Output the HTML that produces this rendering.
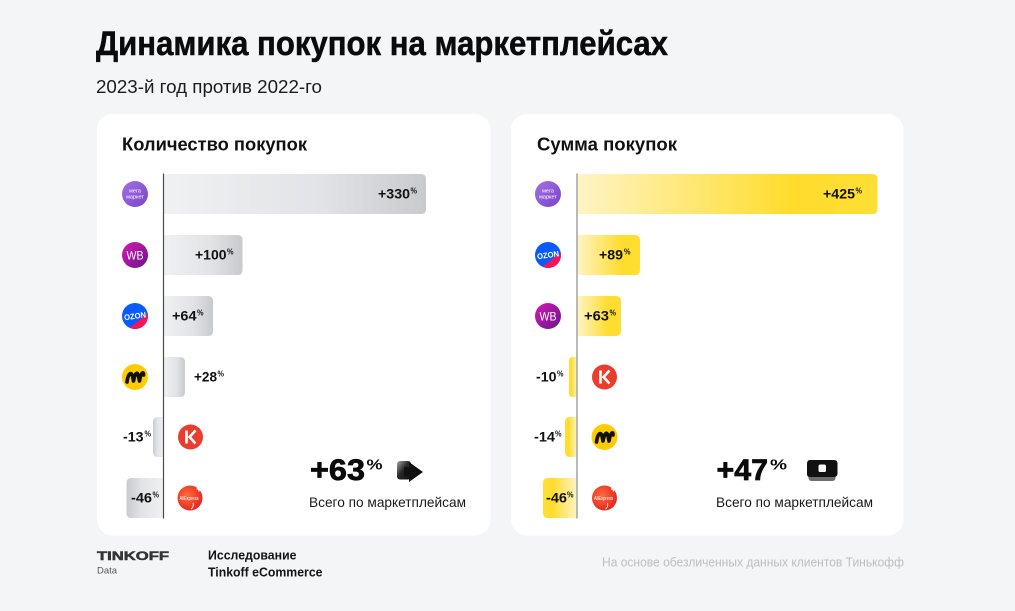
<!DOCTYPE html>
<html><head><meta charset="utf-8"><style>
html,body{margin:0;padding:0;background:#f4f5f7;}
svg{display:block;font-family:"Liberation Sans","Noto Sans CJK SC",sans-serif;}
</style></head><body>
<svg width="1015" height="611" viewBox="0 0 1015 611" xmlns="http://www.w3.org/2000/svg">
<defs>
<linearGradient id="gp" x1="0" y1="0" x2="1" y2="0"><stop offset="0" stop-color="#eff1f3"/><stop offset="0.6" stop-color="#e1e3e6"/><stop offset="1" stop-color="#c8cacd"/></linearGradient>
<linearGradient id="gn" x1="1" y1="0" x2="0" y2="0"><stop offset="0" stop-color="#eff1f3"/><stop offset="0.6" stop-color="#e1e3e6"/><stop offset="1" stop-color="#c8cacd"/></linearGradient>
<linearGradient id="yp" x1="0" y1="0" x2="1" y2="0"><stop offset="0" stop-color="#fff4c6"/><stop offset="0.72" stop-color="#ffdc2c"/><stop offset="1" stop-color="#ffde35"/></linearGradient>
<linearGradient id="yn" x1="1" y1="0" x2="0" y2="0"><stop offset="0" stop-color="#fff4c6"/><stop offset="0.72" stop-color="#ffdc2c"/><stop offset="1" stop-color="#ffde35"/></linearGradient>
<linearGradient id="gMega" x1="0" y1="0" x2="1" y2="1"><stop offset="0" stop-color="#a272e6"/><stop offset="1" stop-color="#7843c6"/></linearGradient>
<linearGradient id="gWB" x1="0" y1="0" x2="1" y2="1"><stop offset="0" stop-color="#d61ab2"/><stop offset="1" stop-color="#6a148e"/></linearGradient>
<radialGradient id="gAli" cx="0.4" cy="0.4" r="0.7"><stop offset="0" stop-color="#ff6b3e"/><stop offset="1" stop-color="#e2201a"/></radialGradient>
<linearGradient id="gArr" x1="0" y1="0" x2="1" y2="1"><stop offset="0" stop-color="#a8a8a8"/><stop offset="0.45" stop-color="#2a2a2a"/><stop offset="1" stop-color="#0e0e0e"/></linearGradient>
</defs>

<!-- Header -->
<text x="96" y="55" font-size="34" font-weight="bold" fill="#0b0b0b" stroke="#0b0b0b" stroke-width="0.5" textLength="572" lengthAdjust="spacingAndGlyphs">Динамика покупок на маркетплейсах</text>
<text x="96" y="93" font-size="18" fill="#1c1c1c" textLength="226" lengthAdjust="spacingAndGlyphs">2023-й год против 2022-го</text>

<!-- Cards -->
<rect x="97" y="114" width="393.5" height="421.5" rx="16" fill="#ffffff"/>
<rect x="511" y="114" width="392.5" height="421.5" rx="16" fill="#ffffff"/>

<text x="122" y="150.5" font-size="18" font-weight="bold" fill="#111" textLength="185" lengthAdjust="spacingAndGlyphs">Количество покупок</text>
<text x="537" y="150.5" font-size="18" font-weight="bold" fill="#111" textLength="140" lengthAdjust="spacingAndGlyphs">Сумма покупок</text>

<!-- Left bars -->
<path d="M163.5 174 H421 Q426 174 426 179 V209 Q426 214 421 214 H163.5 Z" fill="url(#gp)"/>
<path d="M163.5 235 H237.5 Q242.5 235 242.5 240 V270 Q242.5 275 237.5 275 H163.5 Z" fill="url(#gp)"/>
<path d="M163.5 296 H208 Q213 296 213 301 V331 Q213 336 208 336 H163.5 Z" fill="url(#gp)"/>
<path d="M163.5 357 H180 Q185 357 185 362 V392 Q185 397 180 397 H163.5 Z" fill="url(#gp)"/>
<path d="M163.5 417 H158 Q153 417 153 422 V452 Q153 457 158 457 H163.5 Z" fill="url(#gn)"/>
<path d="M163.5 478 H131.5 Q126.5 478 126.5 483 V513 Q126.5 518 131.5 518 H163.5 Z" fill="url(#gn)"/>
<line x1="163.5" y1="173.5" x2="163.5" y2="518.5" stroke="#4d4d4d" stroke-width="1.2"/>

<!-- Right bars -->
<path d="M577 174 H872.5 Q877.5 174 877.5 179 V209 Q877.5 214 872.5 214 H577 Z" fill="url(#yp)"/>
<path d="M577 235 H635 Q640 235 640 240 V270 Q640 275 635 275 H577 Z" fill="url(#yp)"/>
<path d="M577 296 H616 Q621 296 621 301 V331 Q621 336 616 336 H577 Z" fill="url(#yp)"/>
<path d="M577 357 H573 Q569 357 569 361 V393 Q569 397 573 397 H577 Z" fill="url(#yn)"/>
<path d="M577 417 H570 Q565 417 565 422 V452 Q565 457 570 457 H577 Z" fill="url(#yn)"/>
<path d="M577 478 H548 Q543 478 543 483 V513 Q543 518 548 518 H577 Z" fill="url(#yn)"/>
<line x1="577" y1="173.5" x2="577" y2="518.5" stroke="#a9a9a9" stroke-width="1.6"/>

<!-- Left labels -->
<g font-weight="bold" fill="#111">
<text x="378" y="198.5" font-size="14" textLength="32" lengthAdjust="spacingAndGlyphs">+330</text><text x="410.5" y="193.5" font-size="8" textLength="6.5" lengthAdjust="spacingAndGlyphs">%</text>
<text x="195" y="259.5" font-size="14" textLength="31.5" lengthAdjust="spacingAndGlyphs">+100</text><text x="227" y="254.5" font-size="8" textLength="6.5" lengthAdjust="spacingAndGlyphs">%</text>
<text x="172" y="320.5" font-size="14" textLength="24.5" lengthAdjust="spacingAndGlyphs">+64</text><text x="197" y="315.5" font-size="8" textLength="6.5" lengthAdjust="spacingAndGlyphs">%</text>
<text x="194" y="381.5" font-size="14" textLength="23" lengthAdjust="spacingAndGlyphs">+28</text><text x="217.5" y="376.5" font-size="8" textLength="6.5" lengthAdjust="spacingAndGlyphs">%</text>
<text x="123" y="441.5" font-size="14" textLength="20.5" lengthAdjust="spacingAndGlyphs">-13</text><text x="144.5" y="436.5" font-size="8" textLength="6.5" lengthAdjust="spacingAndGlyphs">%</text>
<text x="131" y="502.5" font-size="14" textLength="21" lengthAdjust="spacingAndGlyphs">-46</text><text x="152.5" y="497.5" font-size="8" textLength="6.5" lengthAdjust="spacingAndGlyphs">%</text>

<!-- Right labels -->
<text x="823" y="198.5" font-size="14" textLength="32" lengthAdjust="spacingAndGlyphs">+425</text><text x="855.5" y="193.5" font-size="8" textLength="6.5" lengthAdjust="spacingAndGlyphs">%</text>
<text x="599" y="259.5" font-size="14" textLength="24" lengthAdjust="spacingAndGlyphs">+89</text><text x="624" y="254.5" font-size="8" textLength="6.5" lengthAdjust="spacingAndGlyphs">%</text>
<text x="584" y="320.5" font-size="14" textLength="25" lengthAdjust="spacingAndGlyphs">+63</text><text x="609.5" y="315.5" font-size="8" textLength="6.5" lengthAdjust="spacingAndGlyphs">%</text>
<text x="536" y="381.5" font-size="14" textLength="20.5" lengthAdjust="spacingAndGlyphs">-10</text><text x="557" y="376.5" font-size="8" textLength="6.5" lengthAdjust="spacingAndGlyphs">%</text>
<text x="534" y="441.5" font-size="14" textLength="21" lengthAdjust="spacingAndGlyphs">-14</text><text x="555" y="436.5" font-size="8" textLength="6.5" lengthAdjust="spacingAndGlyphs">%</text>
<text x="546" y="502.5" font-size="14" textLength="21" lengthAdjust="spacingAndGlyphs">-46</text><text x="567" y="497.5" font-size="8" textLength="6.5" lengthAdjust="spacingAndGlyphs">%</text>
</g>

<!-- Icons: Mega (left) -->
<circle cx="135" cy="194" r="13" fill="url(#gMega)"/>
<text x="135" y="192.5" font-size="5.5" fill="#fff" text-anchor="middle">мега</text>
<text x="135" y="198.5" font-size="5.5" fill="#fff" text-anchor="middle">маркет</text>
<!-- WB left -->
<circle cx="135" cy="255" r="13" fill="url(#gWB)"/>
<text x="135" y="259.3" font-size="12" fill="#fff" text-anchor="middle" textLength="17" lengthAdjust="spacingAndGlyphs">WB</text>
<!-- Ozon left -->
<circle cx="135" cy="316" r="13" fill="#0a5bff"/>
<path d="M129.5 327.8 L147.8 313.7 A13 13 0 0 1 129.5 327.8 Z" fill="#f5155a"/>
<text x="135" y="318.8" font-size="8" font-weight="bold" fill="#fff" text-anchor="middle" textLength="22" lengthAdjust="spacingAndGlyphs" transform="rotate(-8 135 316)">OZON</text>
<!-- Yandex left -->
<circle cx="135" cy="377" r="13" fill="#ffcc00"/>
<path d="M127 382 C128 374,131 371,132.5 376 L133.5 381 C135 373,137.5 371,138.5 376 L139.5 381 C141 372,144 371,143.5 375" fill="none" stroke="#111" stroke-width="3.6" stroke-linecap="round" stroke-linejoin="round"/>
<!-- K left -->
<circle cx="190.5" cy="437" r="12.5" fill="#ea3d2e"/>
<line x1="186.5" y1="430.5" x2="186.5" y2="443.5" stroke="#fff" stroke-width="2.6"/>
<path d="M195.5 430.5 L189.5 437 L195.5 443.5" fill="none" stroke="#fff" stroke-width="2.6"/>
<!-- Ali left -->
<circle cx="190" cy="498" r="12.5" fill="url(#gAli)"/>
<text x="189" y="500" font-size="5" fill="#fff" text-anchor="middle" textLength="19" lengthAdjust="spacingAndGlyphs">AliExpress</text>
<path d="M199 486.5 v5 M196.5 489 h5" stroke="#fff" stroke-width="1.3"/>
<path d="M193 503 q1 4 -2 6" fill="none" stroke="#fff" stroke-width="0.8"/>

<!-- Icons right: Mega -->
<circle cx="548" cy="194" r="13" fill="url(#gMega)"/>
<text x="548" y="192.5" font-size="5.5" fill="#fff" text-anchor="middle">мега</text>
<text x="548" y="198.5" font-size="5.5" fill="#fff" text-anchor="middle">маркет</text>
<!-- Ozon right -->
<circle cx="548" cy="255" r="13" fill="#0a5bff"/>
<path d="M542.5 266.8 L560.8 252.7 A13 13 0 0 1 542.5 266.8 Z" fill="#f5155a"/>
<text x="548" y="257.8" font-size="8" font-weight="bold" fill="#fff" text-anchor="middle" textLength="22" lengthAdjust="spacingAndGlyphs" transform="rotate(-8 548 255)">OZON</text>
<!-- WB right -->
<circle cx="548" cy="316" r="13" fill="url(#gWB)"/>
<text x="548" y="320.3" font-size="12" fill="#fff" text-anchor="middle" textLength="17" lengthAdjust="spacingAndGlyphs">WB</text>
<!-- K right -->
<circle cx="604.5" cy="377" r="12.5" fill="#ea3d2e"/>
<line x1="600.5" y1="370.5" x2="600.5" y2="383.5" stroke="#fff" stroke-width="2.6"/>
<path d="M609.5 370.5 L603.5 377 L609.5 383.5" fill="none" stroke="#fff" stroke-width="2.6"/>
<!-- Yandex right -->
<circle cx="604.5" cy="437" r="13" fill="#ffcc00"/>
<path d="M596.5 442 C597.5 434,600.5 431,602 436 L603 441 C604.5 433,607 431,608 436 L609 441 C610.5 432,613.5 431,613 435" fill="none" stroke="#111" stroke-width="3.6" stroke-linecap="round" stroke-linejoin="round"/>
<!-- Ali right -->
<circle cx="604.5" cy="498" r="12.5" fill="url(#gAli)"/>
<text x="603.5" y="500" font-size="5" fill="#fff" text-anchor="middle" textLength="19" lengthAdjust="spacingAndGlyphs">AliExpress</text>
<path d="M613.5 486.5 v5 M611 489 h5" stroke="#fff" stroke-width="1.3"/>
<path d="M607.5 503 q1 4 -2 6" fill="none" stroke="#fff" stroke-width="0.8"/>

<!-- Totals left -->
<text x="310" y="480" font-size="30" font-weight="bold" fill="#0b0b0b" stroke="#0b0b0b" stroke-width="0.7" textLength="55" lengthAdjust="spacingAndGlyphs">+63</text>
<text x="366.5" y="469.5" font-size="15" font-weight="bold" fill="#0b0b0b" textLength="16" lengthAdjust="spacingAndGlyphs">%</text>
<rect x="397" y="461" width="14" height="18.5" rx="3" fill="url(#gArr)"/>
<rect x="404" y="467" width="8" height="9" fill="#111"/>
<polygon points="409,462 423,472 409,482" fill="#111"/>
<text x="309" y="507" font-size="14" fill="#1a1a1a" textLength="157" lengthAdjust="spacingAndGlyphs">Всего по маркетплейсам</text>

<!-- Totals right -->
<text x="716.5" y="480" font-size="30" font-weight="bold" fill="#0b0b0b" stroke="#0b0b0b" stroke-width="0.7" textLength="51.5" lengthAdjust="spacingAndGlyphs">+47</text>
<text x="770" y="469.5" font-size="15" font-weight="bold" fill="#0b0b0b" textLength="17" lengthAdjust="spacingAndGlyphs">%</text>
<rect x="808.5" y="464" width="27" height="17" rx="3" fill="#6e6e6e"/>
<path d="M810 460 H834 Q837.5 460 837.5 463.5 V473.5 Q837.5 477 834 477 H810 Q807 477 807 474 V464 Q807 460 810 460 Z" fill="#111"/>
<rect x="818.5" y="464.5" width="7.5" height="7.5" rx="1.8" fill="#fff"/>
<text x="716" y="507" font-size="14" fill="#1a1a1a" textLength="157" lengthAdjust="spacingAndGlyphs">Всего по маркетплейсам</text>

<!-- Footer -->
<text x="97" y="560" font-size="12" font-weight="bold" fill="#353535" stroke="#353535" stroke-width="0.5" textLength="72" lengthAdjust="spacingAndGlyphs">TINKOFF</text>
<text x="97" y="573.5" font-size="9.5" fill="#555" textLength="20" lengthAdjust="spacingAndGlyphs">Data</text>
<text x="208" y="559.5" font-size="12.5" font-weight="bold" fill="#141414" textLength="88.5" lengthAdjust="spacingAndGlyphs">Исследование</text>
<text x="208" y="576.5" font-size="12.5" font-weight="bold" fill="#141414" textLength="114.5" lengthAdjust="spacingAndGlyphs">Tinkoff eCommerce</text>
<text x="602" y="566.5" font-size="12.5" fill="#bcbec2" textLength="302" lengthAdjust="spacingAndGlyphs">На основе обезличенных данных клиентов Тинькофф</text>
</svg>
</body></html>
